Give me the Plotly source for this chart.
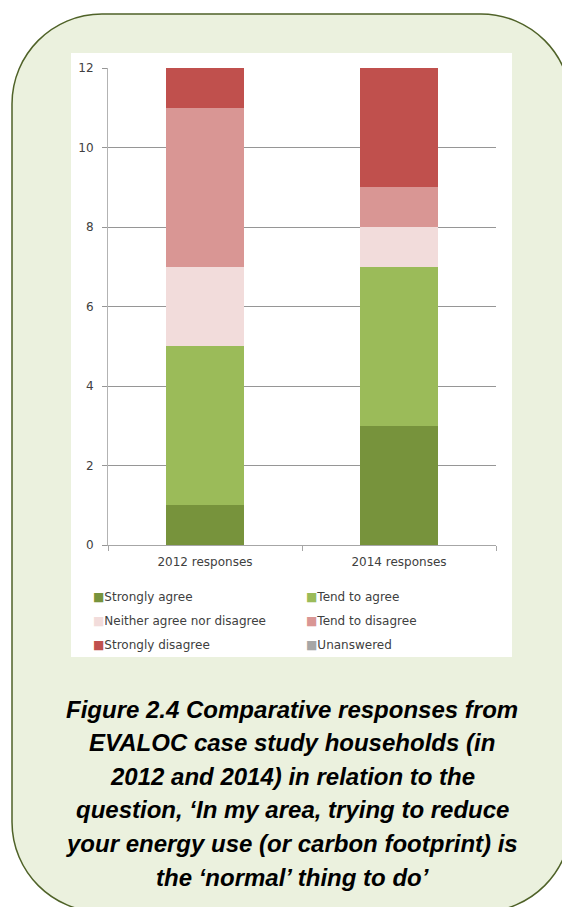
import plotly.graph_objects as go

# Survey responses (number of households) per category and year
years = ["2012 responses", "2014 responses"]
responses = ["Strongly agree", "Tend to agree", "Neither agree nor disagree",
             "Tend to disagree", "Strongly disagree", "Unanswered"]
strongly_agree = [1, 3]
tend_to_agree = [4, 4]
neither = [2, 1]
tend_to_disagree = [4, 1]
strongly_disagree = [1, 3]
unanswered = [0, 0]
series = [strongly_agree, tend_to_agree, neither, tend_to_disagree,
          strongly_disagree, unanswered]
colors = ["#77933c", "#9bbb59", "#f2dcdb", "#d99694", "#c0504d", "#a6a6a6"]
y_ticks = [0, 2, 4, 6, 8, 10, 12]

caption_lines = [
    "Figure 2.4 Comparative responses from",
    "EVALOC case study households (in",
    "2012 and 2014) in relation to the",
    "question, \u2018In my area, trying to reduce",
    "your energy use (or carbon footprint) is",
    "the \u2018normal\u2019 thing to do\u2019",
]

# page geometry (pixels)
W, H = 562, 907
L, R, T, B = 108, 66, 68, 362
PW, PH = W - L - R, H - T - B


def px(x):
    return (x - L) / PW


def py(y):
    return (H - B - y) / PH


def rounded_path(x0, y0, x1, y1, r):
    k = 0.5523 * r
    pts = [
        ("M", [(x0 + r, y0)]),
        ("L", [(x1 - r, y0)]),
        ("C", [(x1 - r + k, y0), (x1, y0 + r - k), (x1, y0 + r)]),
        ("L", [(x1, y1 - r)]),
        ("C", [(x1, y1 - r + k), (x1 - r + k, y1), (x1 - r, y1)]),
        ("L", [(x0 + r, y1)]),
        ("C", [(x0 + r - k, y1), (x0, y1 - r + k), (x0, y1 - r)]),
        ("L", [(x0, y0 + r)]),
        ("C", [(x0, y0 + r - k), (x0 + r - k, y0), (x0 + r, y0)]),
    ]
    out = []
    for cmd, ps in pts:
        out.append(cmd + " ".join(f"{px(a):.5f},{py(b):.5f}" for a, b in ps))
    return " ".join(out) + " Z"


fig = go.Figure()
for name, vals, col in zip(responses, series, colors):
    fig.add_trace(go.Bar(x=years, y=vals, name=name, marker_color=col,
                         marker_line_width=0, showlegend=False))

font_axis = dict(family="DejaVu Sans", size=12, color="#404040")

fig.update_layout(
    width=W, height=H,
    margin=dict(l=L, r=R, t=T, b=B, pad=0),
    barmode="stack", bargap=0.6,
    paper_bgcolor="white", plot_bgcolor="rgba(0,0,0,0)",
    font=font_axis,
    showlegend=False,
    xaxis=dict(showline=True, linecolor="#a6a6a6", linewidth=1,
               ticks="outside", tickson="boundaries", ticklen=5,
               tickcolor="#a6a6a6", tickfont=font_axis, showgrid=False,
               ticklabelstandoff=6),
    yaxis=dict(range=[0, 12], tickvals=y_ticks, showline=True,
               linecolor="#b3b3b3", linewidth=1, ticks="outside", ticklen=5,
               tickcolor="#969696", showgrid=True, gridcolor="#969696",
               gridwidth=1, zeroline=False, tickfont=font_axis,
               ticklabelstandoff=6),
    shapes=[
        dict(type="path", xref="paper", yref="paper", layer="below",
             path=rounded_path(12, 14, 571, 912, 90),
             fillcolor="#ebf1de", line=dict(color="#4f6228", width=1.5)),
        dict(type="rect", xref="paper", yref="paper", layer="below",
             x0=px(71), x1=px(512), y0=py(657), y1=py(53),
             fillcolor="white", line=dict(width=0)),
    ],
)

# legend: two columns, filled row by row
legend_cols = [91, 304]
legend_rows = [597, 621, 645]
for i, (name, col) in enumerate(zip(responses, colors)):
    fig.add_annotation(
        text=f"<span style='color:{col};font-size:12px'>\u25a0</span>{name}",
        xref="paper", yref="paper",
        x=px(legend_cols[i % 2]), y=py(legend_rows[i // 2]),
        xanchor="left", yanchor="middle", showarrow=False,
        font=dict(family="DejaVu Sans", size=12, color="#404040"),
    )

for i, line in enumerate(caption_lines):
    fig.add_annotation(
        text=f"<b><i>{line}</i></b>", xref="paper", yref="paper",
        x=px(292), y=py(709 + i * 33.6), xanchor="center", yanchor="middle",
        showarrow=False,
        font=dict(family="Liberation Sans", size=24, color="black"),
    )

fig.write_html("out.html")
